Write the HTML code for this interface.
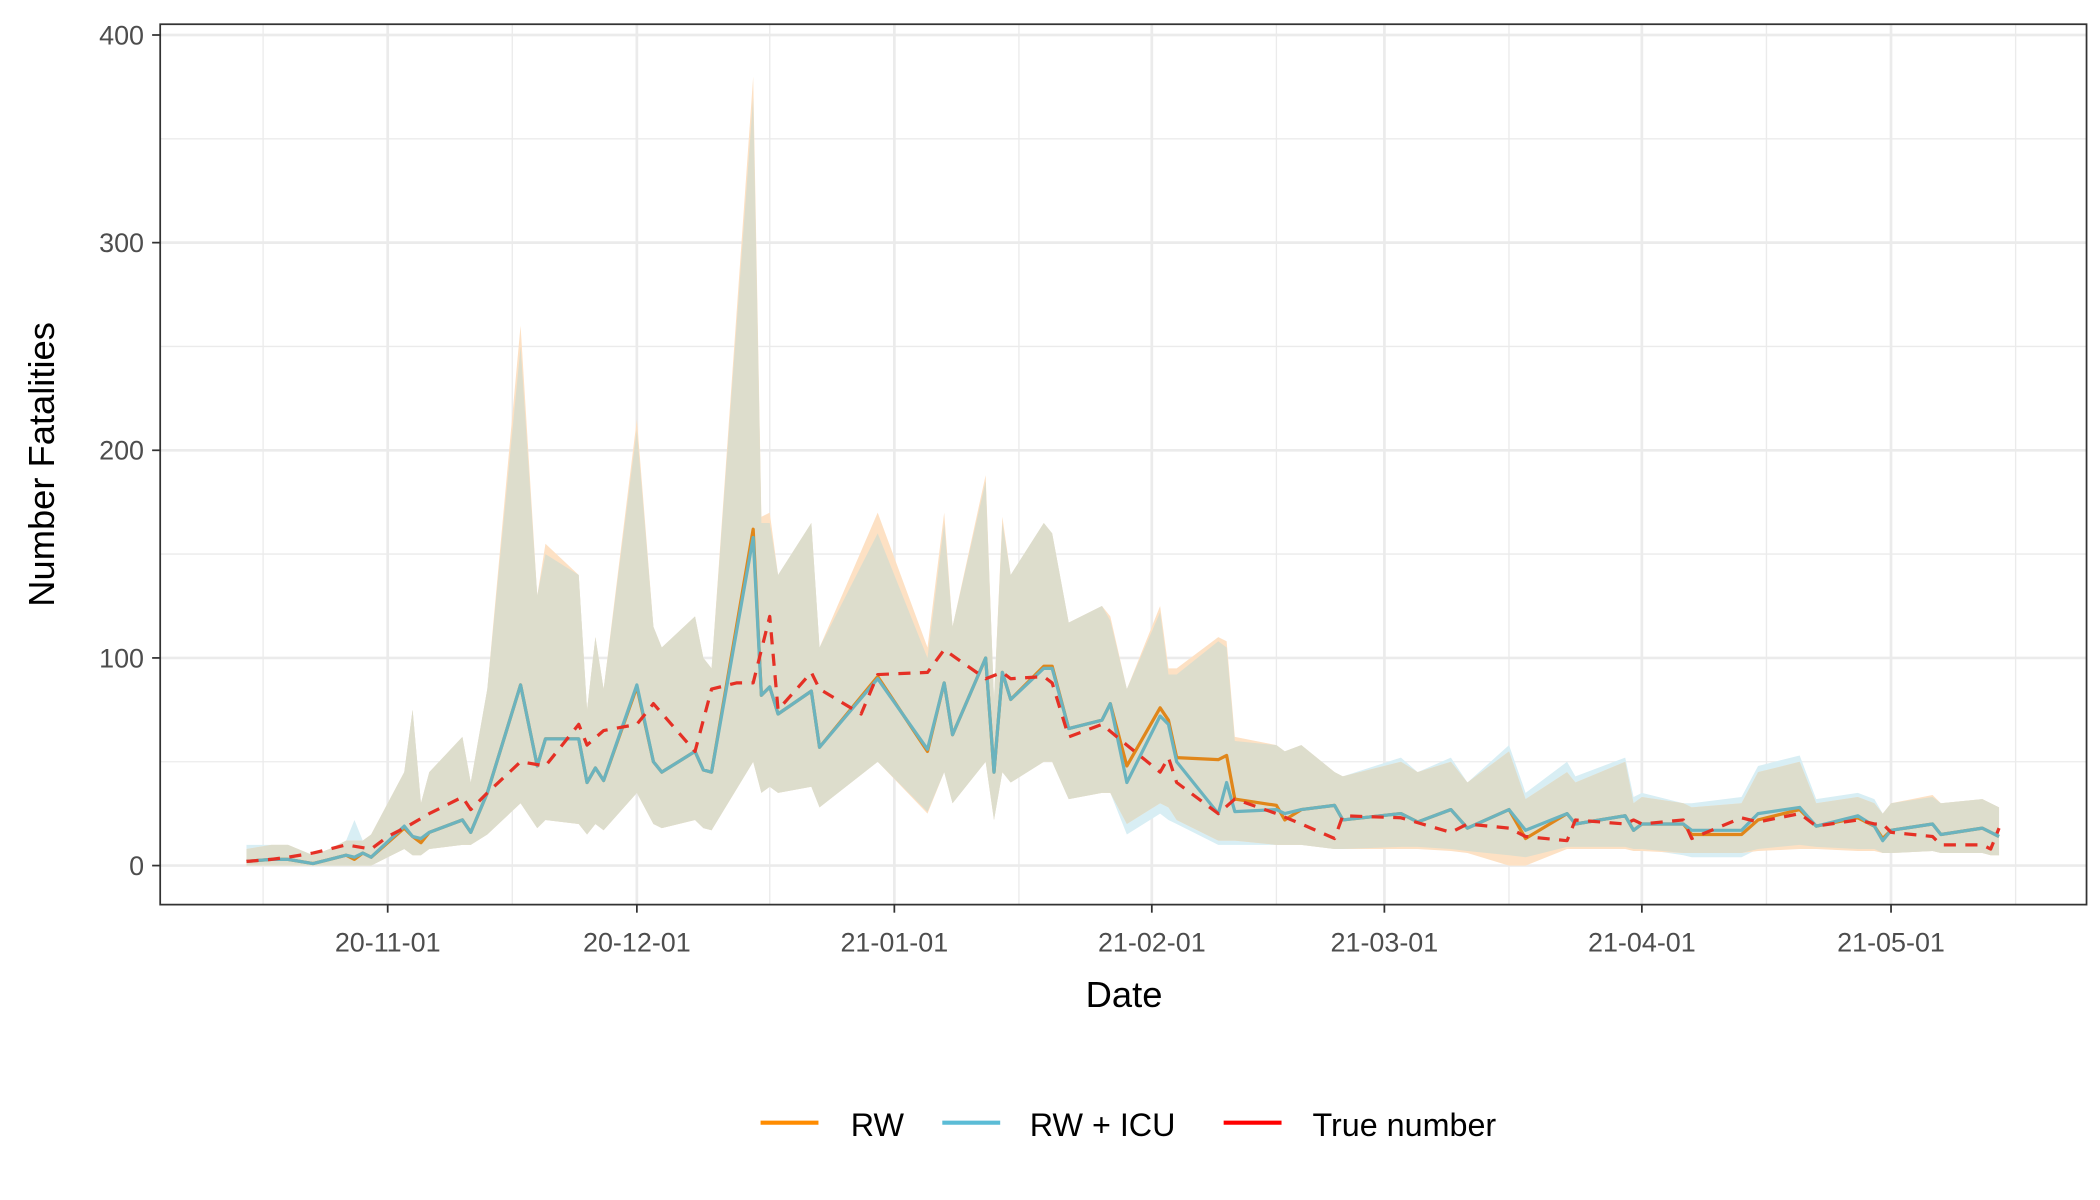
<!DOCTYPE html>
<html><head><meta charset="utf-8"><style>
html,body{margin:0;padding:0;background:#fff;}
svg{display:block;font-family:"Liberation Sans",Arial,sans-serif;}
</style></head><body>
<svg id="chart" width="2100" height="1200" viewBox="0 0 1560 891.43" xmlns="http://www.w3.org/2000/svg">
<rect x="0" y="0" width="1560" height="892" fill="#fff"/>
<g id="grid"></g>
<g id="bands"></g>
<g id="lines"></g>
<rect x="119" y="18" width="1431" height="654" fill="none" stroke="#333" stroke-width="1.3"/>
<g id="axes"></g>
<text transform="translate(40,345) rotate(-90)" text-anchor="middle" font-size="27" fill="#000">Number Fatalities</text>
<text x="835" y="748" text-anchor="middle" font-size="27" fill="#000">Date</text>
<g>
<g><line x1="565" y1="834" x2="608" y2="834" stroke="#FF8C00" stroke-width="3"/><text x="632" y="844" font-size="24">RW</text></g>
<g><line x1="700" y1="834" x2="743" y2="834" stroke="#5BBCD6" stroke-width="3"/><text x="765" y="844" font-size="24">RW + ICU</text></g>
<g><line x1="909" y1="834" x2="952" y2="834" stroke="#FF0000" stroke-width="3"/><text x="975" y="844" font-size="24">True number</text></g>
</g>
</svg>
<script>
// days since 2020-11-01
const days = [-17,-14,-12,-9,-7,-5,-4,-3,-2,2,3,4,5,9,10,12,16,18,19,23,24,25,26,30,32,33,37,38,39,44,45,46,47,51,52,59,65,67,68,72,73,74,75,79,80,82,86,87,89,93,94,95,100,101,102,107,108,110,114,115,122,124,128,130,135,137,142,143,149,150,151,156,157,163,165,170,172,177,179,180,181,186,187,192,193,194];
const rwValues = [2,3,3,1,3,5,3,6,4,18,14,11,16,22,16,35,87,48,61,61,40,47,41,86,50,45,55,46,45,162,82,86,73,84,57,91,55,88,63,100,45,93,80,96,96,66,70,78,48,76,70,52,51,53,32,29,22,27,29,22,25,21,27,18,27,13,25,20,24,17,20,20,15,15,22,27,19,23,19,13,17,20,15,18,16,14];
const icuValues = [2,3,3,1,3,5,4,6,4,19,14,13,16,22,16,35,87,48,61,61,40,47,41,87,50,45,55,46,45,158,82,86,73,84,57,90,56,88,63,100,45,93,80,95,95,66,70,78,40,72,68,50,25,40,26,27,25,27,29,22,25,21,27,18,27,17,25,20,24,17,20,20,17,17,25,28,19,24,19,12,17,20,15,18,16,14];
const upperRw = [8,10,10,5,8,12,12,12,15,45,75,30,45,62,40,85,260,130,155,140,75,110,85,215,115,105,120,100,95,380,168,170,140,165,105,170,105,170,115,188,80,168,140,165,160,117,125,120,85,125,95,95,110,108,62,58,55,58,45,43,50,45,50,40,55,32,45,40,50,30,33,30,28,30,45,50,30,33,30,25,30,34,30,32,30,28];
const upperIcu = [10,10,10,5,8,12,22,12,15,45,75,30,45,62,40,85,250,130,150,140,75,110,85,210,115,105,120,100,95,370,165,165,140,165,105,160,100,165,115,185,80,165,140,165,160,117,125,118,85,122,92,92,108,105,60,58,55,58,45,43,52,45,52,40,58,35,50,43,52,33,35,30,30,33,48,53,32,35,32,25,30,33,30,32,30,28];
const lowerRw = [0,0,0,0,0,0,0,0,0,8,5,5,8,10,10,15,30,18,22,20,15,20,17,35,20,18,22,18,17,50,35,38,35,38,28,50,25,45,30,50,22,45,40,50,50,32,35,35,20,30,28,22,12,12,12,10,10,10,8,8,8,8,7,6,0,0,8,8,8,7,7,6,6,6,7,8,8,7,7,6,6,7,6,6,5,5];
const lowerIcu = [0,0,0,0,0,0,0,0,0,8,5,5,8,10,10,15,30,18,22,20,15,20,17,35,20,18,22,18,17,50,35,38,35,38,28,50,26,45,30,50,22,45,40,50,50,32,35,35,15,25,22,20,10,10,10,10,10,10,8,8,9,9,8,7,5,4,9,9,9,8,8,5,4,4,8,10,9,8,8,6,6,7,6,6,5,5];
const trueDays = [-17,-14,-12,-9,-7,-5,-2,0,2,5,9,10,12,16,19,23,24,26,30,32,37,39,42,44,46,47,51,52,57,59,65,67,72,74,75,79,80,82,86,89,93,94,95,100,102,107,110,114,115,122,128,130,135,137,142,143,149,150,151,156,157,163,165,170,172,177,179,180,181,186,187,192,193,194];
const trueValues = [2,3,4,6,8,10,8,14,18,25,33,27,35,50,48,68,58,65,68,78,55,85,88,88,120,75,93,85,73,92,93,104,90,93,90,91,88,62,68,58,45,52,40,25,32,25,20,13,24,23,16,20,18,14,12,22,20,22,20,22,13,23,21,25,19,22,20,20,16,14,10,10,8,18];
const yTicks = [0,100,200,300,400];
const xTickDays = [0,30,61,92,120,151,181];
const xTickLabels = ["20-11-01","20-12-01","21-01-01","21-02-01","21-03-01","21-04-01","21-05-01"];
const xMinorDays = [-15,15,46,76,107,135,166,196];

const X = d => 288 + d * 6.17;
const Y = v => 643 - v * 1.5425;
const NS = "http://www.w3.org/2000/svg";
function mk(tag, attrs, parent){const e=document.createElementNS(NS,tag);for(const k in attrs)e.setAttribute(k,attrs[k]);parent.appendChild(e);return e;}
const grid=document.getElementById('grid'), bands=document.getElementById('bands'), lines=document.getElementById('lines'), axes=document.getElementById('axes');
mk('rect',{x:119,y:18,width:1431,height:654,fill:'#fff'},grid);
yTicks.forEach((v,i)=>{ if(i<yTicks.length-1){const m=mk('line',{x1:119,x2:1550,y1:Y(v+50),y2:Y(v+50),stroke:'#EBEBEB','stroke-width':1},grid);

}
const g=mk('line',{x1:119,x2:1550,y1:Y(v),y2:Y(v),stroke:'#EBEBEB','stroke-width':2},grid);


mk('line',{x1:113,x2:119,y1:Y(v),y2:Y(v),stroke:'#333','stroke-width':1.3},axes);
const t=mk('text',{x:107,y:Y(v)+7,'text-anchor':'end','font-size':20,fill:'#4D4D4D'},axes);t.textContent=v;

});
xMinorDays.forEach(d=>{const m=mk('line',{x1:X(d),x2:X(d),y1:18,y2:672,stroke:'#EBEBEB','stroke-width':1},grid);

});
xTickDays.forEach((d,i)=>{const g=mk('line',{x1:X(d),x2:X(d),y1:18,y2:672,stroke:'#EBEBEB','stroke-width':2},grid);


mk('line',{x1:X(d),x2:X(d),y1:672,y2:678,stroke:'#333','stroke-width':1.3},axes);
const t=mk('text',{x:X(d),y:707,'text-anchor':'middle','font-size':20,fill:'#4D4D4D'},axes);t.textContent=xTickLabels[i];

});
function bandPath(up,lo){let p='';days.forEach((d,i)=>{p+=(i?'L':'M')+X(d).toFixed(1)+','+Y(up[i]).toFixed(1);});
for(let i=days.length-1;i>=0;i--)p+='L'+X(days[i]).toFixed(1)+','+Y(lo[i]).toFixed(1);return p+'Z';}
const bIcu=mk('path',{d:bandPath(upperIcu,lowerIcu),fill:'#D8EEF4'},bands);


const bRw=mk('path',{d:bandPath(upperRw,lowerRw),fill:'#FDE1C4'},bands);


const ov=mk('path',{d:bandPath(upperRw.map((v,i)=>Math.min(v,upperIcu[i])),lowerRw.map((v,i)=>Math.max(v,lowerIcu[i]))),fill:'#DDDDCC'},bands);


function line(xs,vals,color,w,dash,name){const pts=xs.map((d,i)=>X(d).toFixed(1)+','+Y(vals[i]).toFixed(1)).join(' ');
const e=mk('polyline',{points:pts,fill:'none',stroke:color,'stroke-width':w,'stroke-linejoin':'round'},lines);
if(dash)e.setAttribute('stroke-dasharray',dash);

}
line(days,rwValues,'#E0861A',2.4,null,'line-rw');
line(days,icuValues,'#6BB3BE',2.4,null,'line-rw-icu');
line(trueDays,trueValues,'#E53025',2.4,'9,7','line-true-number');
</script>
</body></html>
